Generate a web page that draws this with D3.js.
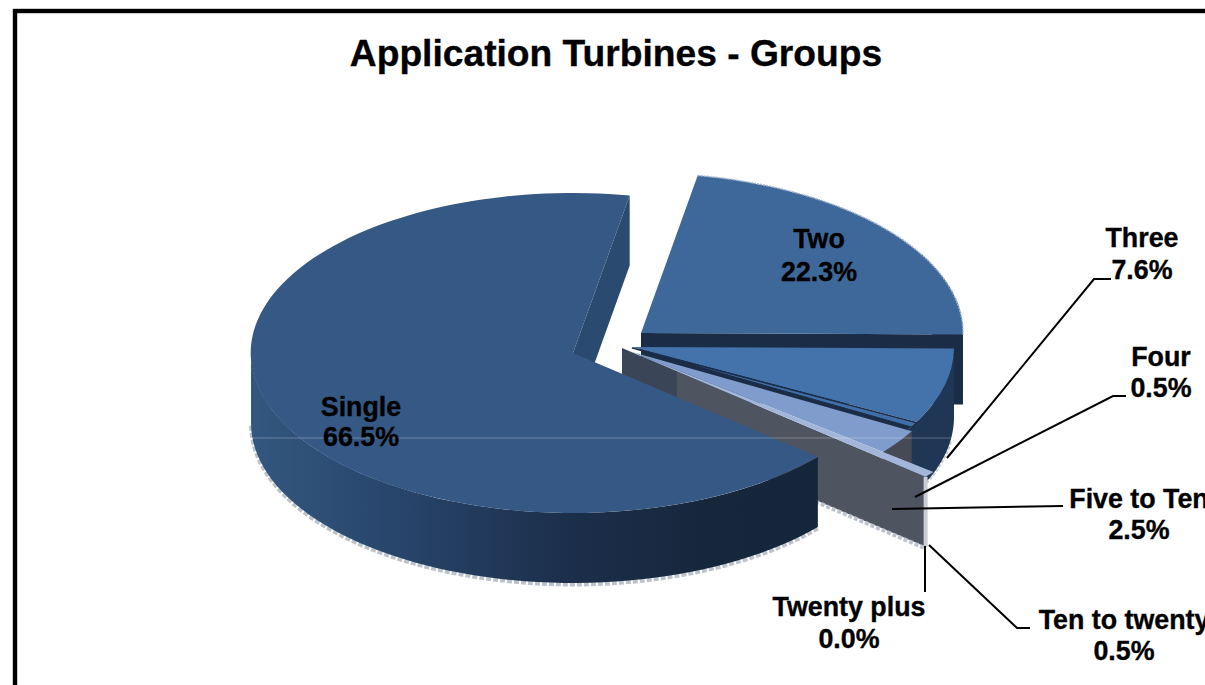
<!DOCTYPE html>
<html><head><meta charset="utf-8">
<script src="https://cdnjs.cloudflare.com/ajax/libs/d3/7.8.5/d3.min.js"></script>
<style>html,body{margin:0;padding:0;background:#fff;overflow:hidden}svg{display:block}text{font-family:"Liberation Sans",Arial,sans-serif;font-weight:700;fill:#000;stroke:#000;stroke-width:.35px}</style>
</head><body><svg id="c" width="1205" height="685"></svg>
<script>
const categories = ["Single","Two","Three","Four","Five to Ten","Ten to twenty","Twenty plus"];
const shares = [66.5,22.3,7.6,0.5,2.5,0.5,0.0];
const titleText = "Application Turbines - Groups";

// layout, not data
const RX=322, RY=160, DEPTH=70, START=130.5;
const apex = {"Single":[573,353],"Two":[641,333],"Three":[632,347],"Four":[632,348],"Five to Ten":[632,352],"Ten to twenty":[622,348],"Twenty plus":[622,348]};
const reach = {"Single":1,"Two":1,"Three":1,"Four":1,"Five to Ten":1,"Ten to twenty":1.24,"Twenty plus":1.24};
const topFill = {"Single":"#365884","Two":"#3e6899","Three":"#4472ab","Four":"#3f6ea8","Five to Ten":"#7f9ccc","Ten to twenty":"#a3b6da"};
const labelSpots = [
 {name:"Single",x:361,y:[416,446]},{name:"Two",x:819,y:[248,281]},{name:"Three",x:1142,y:[247,279]},
 {name:"Four",x:1161,y:[366,397]},{name:"Five to Ten",x:1139,y:[508,539]},{name:"Ten to twenty",x:1124,y:[629,660]},{name:"Twenty plus",x:849,y:[616,648]}];
const leaders = [
 [[1111,279],[1094,279],[947,458]],[[1126,396],[1113,396],[915,497]],[[1063,506],[892,509]],
 [[1030,628],[1017,628],[929,545]],[[925,546],[925,592]]];

const rad=d=>d*Math.PI/180;
const svg=d3.select("#c");
const pie=d3.pie().sort(null).value(d=>d).startAngle(rad(START)).endAngle(rad(START+360));
const arcs=pie(shares);
const sl=Object.fromEntries(categories.map((c,i)=>[c,arcs[i]]));
const line=d3.line();
const rim=(n,t,dy=0,r=reach[n])=>[apex[n][0]+RX*r*Math.sin(t),apex[n][1]-RY*r*Math.cos(t)+dy];
const arcPts=(n,t0,t1,dy=0)=>d3.range(0,61).map(i=>rim(n,t0+(t1-t0)*i/60,dy));

const defs=svg.append("defs");
function grad(id,stops,x1,x2){const g=defs.append("linearGradient").attr("id",id).attr("gradientUnits","userSpaceOnUse").attr("x1",x1).attr("x2",x2).attr("y1",0).attr("y2",0);
 stops.forEach(s=>g.append("stop").attr("offset",s[0]).attr("stop-color",s[1]));}
grad("singleWall",[[0,"#33577f"],[.27,"#27446a"],[.55,"#1c2f4b"],[.8,"#16273c"],[1,"#14263a"]],252,820);
grad("slab",[[0,"#3a4658"],[.178,"#3a4658"],[.178,"#4f5560"],[1,"#4f5560"]],622,930);

const topFace=n=>svg.append("path").attr("transform",`translate(${apex[n]}) scale(${RX*reach[n]},${RY*reach[n]})`)
 .attr("d",d3.arc().innerRadius(0).outerRadius(1)({startAngle:sl[n].startAngle,endAngle:sl[n].endAngle})).attr("fill",topFill[n]);
const wallOuter=(n,t0,t1,fill)=>svg.append("path").attr("d",line([...arcPts(n,t0,t1),...arcPts(n,t1,t0,DEPTH)])+"Z").attr("fill",fill);
const wallRay=(n,t,fill)=>svg.append("path").attr("d",line([apex[n],rim(n,t),rim(n,t,DEPTH),[apex[n][0],apex[n][1]+DEPTH]])+"Z").attr("fill",fill);
const edge=(pts,w,col,dash)=>svg.append("path").attr("d",line(pts)).attr("fill","none").attr("stroke",col).attr("stroke-width",w).attr("stroke-dasharray",dash||null);

// Two
wallOuter("Two",sl.Two.endAngle-rad(30),sl.Two.endAngle,"#1b2c47");
wallRay("Two",sl.Two.endAngle,"#1b2c47");
topFace("Two");
edge(arcPts("Two",sl.Two.startAngle,sl.Two.endAngle),1.5,"#9fb3cc","2 1");
// Three
edge(arcPts("Three",sl.Three.startAngle+rad(8),sl.Four.endAngle,DEPTH+1),3,"#c6ccd6","3 2");
wallOuter("Three",sl.Three.startAngle,sl["Five to Ten"].endAngle,"#1f3655");
topFace("Three");
// dark backing behind the thin slices
svg.append("path").attr("transform",`translate(${apex.Three}) scale(${RX},${RY})`)
 .attr("d",d3.arc().innerRadius(0).outerRadius(1)({startAngle:sl.Four.startAngle,endAngle:sl["Five to Ten"].endAngle})).attr("fill","#1b2c47");
// Five to Ten wall and top
wallOuter("Five to Ten",sl["Five to Ten"].startAngle,sl["Five to Ten"].endAngle,"#464a54");
topFace("Five to Ten");
// Four sliver
topFace("Four").attr("stroke","#1b2c47").attr("stroke-width",0.006);
// Ten to twenty slab and strip
const tt=sl["Ten to twenty"].endAngle;
wallRay("Ten to twenty",tt,"url(#slab)");
edge([[apex["Ten to twenty"][0],apex["Ten to twenty"][1]+DEPTH+1.5],rim("Ten to twenty",tt,DEPTH+1.5)],4,"#bcc3cd","4 2");
topFace("Ten to twenty");
edge([rim("Ten to twenty",tt),rim("Ten to twenty",tt,DEPTH)],4,"#c9cdd3");
// Single
wallRay("Single",sl.Single.endAngle,"#2a4a70");
edge(arcPts("Single",sl.Single.startAngle,rad(270),DEPTH+1.5),4,"#bcc3cd","5 2");
wallOuter("Single",sl.Single.startAngle,rad(270),"url(#singleWall)");
topFace("Single");

// faint horizontal seam
const seam=d3.scaleLinear().domain([0,1]).range([252,958]);
svg.append("line").attr("x1",seam(0)).attr("x2",seam(1)).attr("y1",438).attr("y2",438).attr("stroke","#fff").attr("stroke-opacity",.28);

// frame
svg.append("rect").attr("x",15).attr("y",11).attr("width",1400).attr("height",900).attr("fill","none").attr("stroke","#000").attr("stroke-width",4.4);

// title
svg.append("text").attr("x",616).attr("y",66).attr("text-anchor","middle").attr("font-size",37.2).text(titleText);

// leaders
leaders.forEach(p=>edge(p,2,"#000"));

// labels
labelSpots.forEach(s=>{
 const v=shares[categories.indexOf(s.name)];
 [s.name,d3.format(".1f")(v)+"%"].forEach((t,i)=>svg.append("text").attr("x",s.x).attr("y",s.y[i]).attr("text-anchor","middle").attr("font-size",26.8).text(t));
});
</script></body></html>
